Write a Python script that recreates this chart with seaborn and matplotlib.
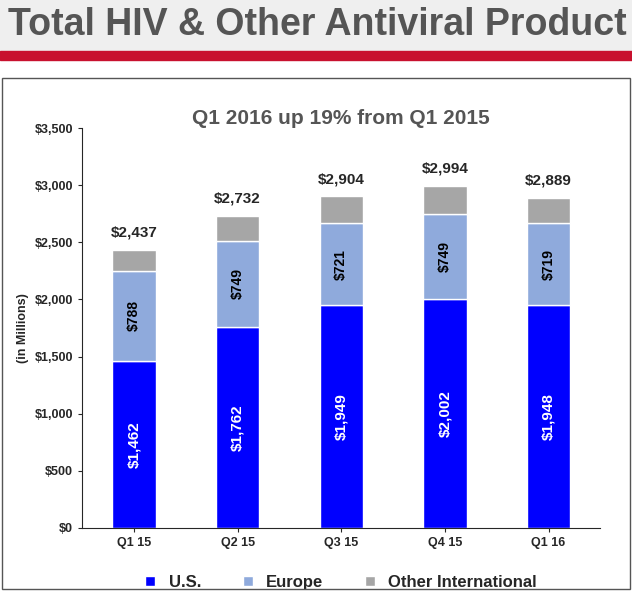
import numpy as np
import pandas as pd
import matplotlib.pyplot as plt
import seaborn as sns
from matplotlib.patches import Rectangle


quarters = ['Q1 15', 'Q2 15', 'Q3 15', 'Q4 15', 'Q1 16']
us = np.array([1462, 1762, 1949, 2002, 1948])
europe = np.array([788, 749, 721, 749, 719])
total = np.array([2437, 2732, 2904, 2994, 2889])
other = total - us - europe

def product_sales_chart():
    sns.set_style("white")
    plt.rcParams['font.family'] = ['Liberation Sans', 'DejaVu Sans']

    # Plot: same pixel size as the slide crop
    fig = plt.figure(figsize=(6.32, 5.91), dpi=100)
    fig.patches.append(Rectangle((0, 0.905), 1, 0.095, transform=fig.transFigure,
                                 color='#EFEFEF', zorder=-2))
    fig.patches.append(Rectangle((0, 0.898), 1, 0.016, transform=fig.transFigure,
                                 color='#C8102E', zorder=-1))
    fig.patches.append(Rectangle((0.003, 0.003), 0.994, 0.865, transform=fig.transFigure,
                                 fill=False, edgecolor='#555555', lw=1))
    fig.text(0.012, 0.957, 'Total HIV & Other Antiviral Product', fontsize=27,
             fontweight='bold', color='#555555', va='center')

    ax = fig.add_axes([0.13, 0.107, 0.82, 0.676])
    df = pd.DataFrame({'quarter': quarters, 'us': us, 'europe': europe, 'other': other})
    sns.barplot(data=df, x='quarter', y='us', color='#0000FF', width=0.42,
                saturation=1, ax=ax, label='U.S.')
    sns.barplot(data=df, x='quarter', y='europe', bottom=us, color='#8FAADC', width=0.42,
                saturation=1, ax=ax, label='Europe')
    sns.barplot(data=df, x='quarter', y='other', bottom=us + europe, color='#A6A6A6',
                width=0.42, saturation=1, ax=ax, label='Other International')

    for i in range(len(quarters)):
        ax.text(i, us[i] / 2, f'${us[i]:,}', rotation=90, ha='center', va='center',
                color='white', fontsize=11, fontweight='bold')
        ax.text(i, us[i] + europe[i] / 2, f'${europe[i]:,}', rotation=90, ha='center',
                va='center', color='black', fontsize=10, fontweight='bold')
        ax.text(i, total[i] + 90, f'${total[i]:,}', ha='center', va='bottom',
                fontsize=11, fontweight='bold')

    ax.set_ylim(0, 3500)
    ax.set_yticks(range(0, 3501, 500))
    ax.set_yticklabels([f'${v:,}' for v in range(0, 3501, 500)], fontsize=9, fontweight='bold')
    ax.set_xticklabels(quarters, fontsize=9, fontweight='bold')
    ax.set_xlabel('')
    ax.set_ylabel('(in Millions)', fontsize=9, fontweight='bold')
    ax.tick_params(axis='both', length=3, direction='out', left=True, bottom=True)
    for s in ['top', 'right']:
        ax.spines[s].set_visible(False)
    ax.set_title('Q1 2016 up 19% from Q1 2015', fontsize=15, fontweight='bold',
                 color='#555555', pad=3)
    ax.legend(loc='upper center', bbox_to_anchor=(0.5, -0.08), ncol=3, frameon=False,
              handlelength=0.6, handleheight=0.6, columnspacing=2.5,
              prop={'weight': 'bold', 'size': 12})
    plt.savefig('out.png')


if __name__ == "__main__":
    product_sales_chart()
